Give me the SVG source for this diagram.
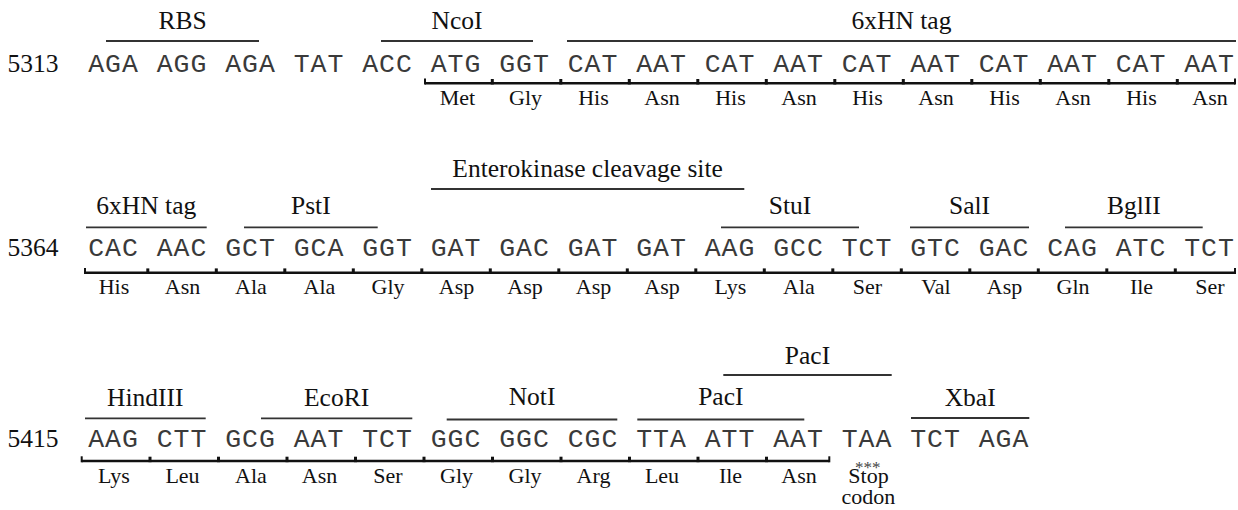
<svg xmlns="http://www.w3.org/2000/svg" width="1238" height="510" viewBox="0 0 1238 510">
<style>
.num{font-family:"Liberation Serif",serif;font-size:25.5px;fill:#111}
.cod{font-family:"Liberation Mono","Courier New",monospace;font-size:26.5px;letter-spacing:1px;fill:#3a3a3a;text-anchor:middle}
.lab{font-family:"Liberation Serif",serif;font-size:25.5px;fill:#111;text-anchor:middle}
.aa{font-family:"Liberation Serif",serif;font-size:22px;fill:#111;text-anchor:middle}
.ast{font-size:17px;fill:#444}
.ov{stroke:#333;stroke-width:1.8;fill:none}
.br{stroke:#111;stroke-width:2.5;fill:none}
.tk{fill:#111}
</style>
<rect width="1238" height="510" fill="#fff"/>

<!-- Row 1 -->
<g id="row1">
<text class="num" x="7.5" y="72">5313</text>
<g id="row1-codons">
<text class="cod" x="113.5" y="72">AGA</text>
<text class="cod" x="182" y="72">AGG</text>
<text class="cod" x="250.5" y="72">AGA</text>
<text class="cod" x="319" y="72">TAT</text>
<text class="cod" x="387.5" y="72">ACC</text>
<text class="cod" x="456" y="72">ATG</text>
<text class="cod" x="524.5" y="72">GGT</text>
<text class="cod" x="593" y="72">CAT</text>
<text class="cod" x="661.5" y="72">AAT</text>
<text class="cod" x="730" y="72">CAT</text>
<text class="cod" x="798.5" y="72">AAT</text>
<text class="cod" x="867" y="72">CAT</text>
<text class="cod" x="935.5" y="72">AAT</text>
<text class="cod" x="1004" y="72">CAT</text>
<text class="cod" x="1072.5" y="72">AAT</text>
<text class="cod" x="1141" y="72">CAT</text>
<text class="cod" x="1209.5" y="72">AAT</text>
</g>
<g id="row1-features">
<g id="rbs"><line class="ov" x1="106" y1="41" x2="259" y2="41"/><text class="lab" x="182.5" y="29">RBS</text></g>
<g id="ncoi"><line class="ov" x1="381" y1="41" x2="533" y2="41"/><text class="lab" x="457" y="28.5">NcoI</text></g>
<g id="hn1"><line class="ov" x1="567" y1="41" x2="1236" y2="41"/><text class="lab" x="901.5" y="28.5">6xHN tag</text></g>
</g>
<g id="row1-bracket">
<line class="br" x1="425" y1="83.3" x2="1235" y2="83.3"/>
<rect class="tk" x="424" y="78.5" width="2" height="6"/>
<rect class="tk" x="1234" y="78.5" width="2" height="6"/>
<rect class="tk" x="490.8" y="79" width="3" height="5.5"/>
<rect class="tk" x="559.3" y="79" width="3" height="5.5"/>
<rect class="tk" x="627.8" y="79" width="3" height="5.5"/>
<rect class="tk" x="696.3" y="79" width="3" height="5.5"/>
<rect class="tk" x="764.8" y="79" width="3" height="5.5"/>
<rect class="tk" x="833.3" y="79" width="3" height="5.5"/>
<rect class="tk" x="901.8" y="79" width="3" height="5.5"/>
<rect class="tk" x="970.3" y="79" width="3" height="5.5"/>
<rect class="tk" x="1038.8" y="79" width="3" height="5.5"/>
<rect class="tk" x="1107.3" y="79" width="3" height="5.5"/>
<rect class="tk" x="1175.8" y="79" width="3" height="5.5"/>
</g>
<g id="row1-aa">
<text class="aa" x="457.5" y="104.5">Met</text>
<text class="aa" x="525.5" y="104.5">Gly</text>
<text class="aa" x="593.5" y="104.5">His</text>
<text class="aa" x="662" y="104.5">Asn</text>
<text class="aa" x="730.5" y="104.5">His</text>
<text class="aa" x="799" y="104.5">Asn</text>
<text class="aa" x="867.5" y="104.5">His</text>
<text class="aa" x="936" y="104.5">Asn</text>
<text class="aa" x="1004.5" y="104.5">His</text>
<text class="aa" x="1073" y="104.5">Asn</text>
<text class="aa" x="1141.5" y="104.5">His</text>
<text class="aa" x="1210" y="104.5">Asn</text>
</g>
</g>

<!-- Row 2 -->
<g id="row2">
<text class="num" x="7.5" y="256">5364</text>
<g id="row2-codons">
<text class="cod" x="113.5" y="256">CAC</text>
<text class="cod" x="182" y="256">AAC</text>
<text class="cod" x="250.5" y="256">GCT</text>
<text class="cod" x="319" y="256">GCA</text>
<text class="cod" x="387.5" y="256">GGT</text>
<text class="cod" x="456" y="256">GAT</text>
<text class="cod" x="524.5" y="256">GAC</text>
<text class="cod" x="593" y="256">GAT</text>
<text class="cod" x="661.5" y="256">GAT</text>
<text class="cod" x="730" y="256">AAG</text>
<text class="cod" x="798.5" y="256">GCC</text>
<text class="cod" x="867" y="256">TCT</text>
<text class="cod" x="935.5" y="256">GTC</text>
<text class="cod" x="1004" y="256">GAC</text>
<text class="cod" x="1072.5" y="256">CAG</text>
<text class="cod" x="1141" y="256">ATC</text>
<text class="cod" x="1209.5" y="256">TCT</text>
</g>
<g id="row2-features">
<g id="hn2"><line class="ov" x1="86" y1="227.3" x2="206.7" y2="227.3"/><text class="lab" x="146.3" y="213.7">6xHN tag</text></g>
<g id="psti"><line class="ov" x1="244" y1="227.3" x2="377.7" y2="227.3"/><text class="lab" x="310.8" y="213.7">PstI</text></g>
<g id="ek"><line class="ov" x1="431" y1="189" x2="744.3" y2="189"/><text class="lab" x="587.6" y="177.3">Enterokinase cleavage site</text></g>
<g id="stui"><line class="ov" x1="721" y1="227.3" x2="859" y2="227.3"/><text class="lab" x="790" y="213.7">StuI</text></g>
<g id="sali"><line class="ov" x1="910" y1="227.3" x2="1029" y2="227.3"/><text class="lab" x="969.5" y="213.7">SalI</text></g>
<g id="bglii"><line class="ov" x1="1065" y1="227.3" x2="1202.7" y2="227.3"/><text class="lab" x="1133.8" y="213.7">BglII</text></g>
</g>
<g id="row2-bracket">
<line class="br" x1="85" y1="272.7" x2="1235" y2="272.7"/>
<rect class="tk" x="84" y="268" width="2" height="6"/>
<rect class="tk" x="1234" y="268" width="2" height="6"/>
<rect class="tk" x="146.3" y="268.4" width="3" height="5.5"/>
<rect class="tk" x="214.8" y="268.4" width="3" height="5.5"/>
<rect class="tk" x="283.3" y="268.4" width="3" height="5.5"/>
<rect class="tk" x="351.8" y="268.4" width="3" height="5.5"/>
<rect class="tk" x="420.3" y="268.4" width="3" height="5.5"/>
<rect class="tk" x="488.8" y="268.4" width="3" height="5.5"/>
<rect class="tk" x="557.3" y="268.4" width="3" height="5.5"/>
<rect class="tk" x="625.8" y="268.4" width="3" height="5.5"/>
<rect class="tk" x="694.3" y="268.4" width="3" height="5.5"/>
<rect class="tk" x="762.8" y="268.4" width="3" height="5.5"/>
<rect class="tk" x="831.3" y="268.4" width="3" height="5.5"/>
<rect class="tk" x="899.8" y="268.4" width="3" height="5.5"/>
<rect class="tk" x="968.3" y="268.4" width="3" height="5.5"/>
<rect class="tk" x="1036.8" y="268.4" width="3" height="5.5"/>
<rect class="tk" x="1105.3" y="268.4" width="3" height="5.5"/>
<rect class="tk" x="1173.8" y="268.4" width="3" height="5.5"/>
</g>
<g id="row2-aa">
<text class="aa" x="114" y="294.2">His</text>
<text class="aa" x="182.5" y="294.2">Asn</text>
<text class="aa" x="251" y="294.2">Ala</text>
<text class="aa" x="319.5" y="294.2">Ala</text>
<text class="aa" x="388" y="294.2">Gly</text>
<text class="aa" x="456.5" y="294.2">Asp</text>
<text class="aa" x="525" y="294.2">Asp</text>
<text class="aa" x="593.5" y="294.2">Asp</text>
<text class="aa" x="662" y="294.2">Asp</text>
<text class="aa" x="730.5" y="294.2">Lys</text>
<text class="aa" x="799" y="294.2">Ala</text>
<text class="aa" x="867.5" y="294.2">Ser</text>
<text class="aa" x="936" y="294.2">Val</text>
<text class="aa" x="1004.5" y="294.2">Asp</text>
<text class="aa" x="1073" y="294.2">Gln</text>
<text class="aa" x="1141.5" y="294.2">Ile</text>
<text class="aa" x="1210" y="294.2">Ser</text>
</g>
</g>

<!-- Row 3 -->
<g id="row3">
<text class="num" x="7.5" y="447">5415</text>
<g id="row3-codons">
<text class="cod" x="113.5" y="447">AAG</text>
<text class="cod" x="182" y="447">CTT</text>
<text class="cod" x="250.5" y="447">GCG</text>
<text class="cod" x="319" y="447">AAT</text>
<text class="cod" x="387.5" y="447">TCT</text>
<text class="cod" x="456" y="447">GGC</text>
<text class="cod" x="524.5" y="447">GGC</text>
<text class="cod" x="593" y="447">CGC</text>
<text class="cod" x="661.5" y="447">TTA</text>
<text class="cod" x="730" y="447">ATT</text>
<text class="cod" x="798.5" y="447">AAT</text>
<text class="cod" x="867" y="447">TAA</text>
<text class="cod" x="935.5" y="447">TCT</text>
<text class="cod" x="1004" y="447">AGA</text>
</g>
<g id="row3-features">
<g id="hindiii"><line class="ov" x1="85" y1="418.3" x2="205.7" y2="418.3"/><text class="lab" x="145.3" y="405.8">HindIII</text></g>
<g id="ecori"><line class="ov" x1="261" y1="418.3" x2="412.3" y2="418.3"/><text class="lab" x="336.6" y="405.8">EcoRI</text></g>
<g id="noti"><line class="ov" x1="446.7" y1="419.5" x2="617.3" y2="419.5"/><text class="lab" x="532" y="405.3">NotI</text></g>
<g id="paci1"><line class="ov" x1="637.3" y1="419.5" x2="804.3" y2="419.5"/><text class="lab" x="720.8" y="405.3">PacI</text></g>
<g id="paci2"><line class="ov" x1="723.3" y1="375" x2="891.7" y2="375"/><text class="lab" x="807.5" y="363.7">PacI</text></g>
<g id="xbai"><line class="ov" x1="911" y1="418" x2="1029.3" y2="418"/><text class="lab" x="970.2" y="405.8">XbaI</text></g>
</g>
<g id="row3-bracket">
<line class="br" x1="81.7" y1="461" x2="829.3" y2="461"/>
<rect class="tk" x="80.7" y="456.3" width="2" height="6"/>
<rect class="tk" x="828.3" y="456.3" width="2" height="6"/>
<rect class="tk" x="148.5" y="456.7" width="3" height="5.5"/>
<rect class="tk" x="217" y="456.7" width="3" height="5.5"/>
<rect class="tk" x="285.5" y="456.7" width="3" height="5.5"/>
<rect class="tk" x="354" y="456.7" width="3" height="5.5"/>
<rect class="tk" x="422.5" y="456.7" width="3" height="5.5"/>
<rect class="tk" x="491" y="456.7" width="3" height="5.5"/>
<rect class="tk" x="559.5" y="456.7" width="3" height="5.5"/>
<rect class="tk" x="628" y="456.7" width="3" height="5.5"/>
<rect class="tk" x="696.5" y="456.7" width="3" height="5.5"/>
<rect class="tk" x="765" y="456.7" width="3" height="5.5"/>
</g>
<g id="row3-aa">
<text class="aa" x="114" y="483">Lys</text>
<text class="aa" x="182.5" y="483">Leu</text>
<text class="aa" x="251" y="483">Ala</text>
<text class="aa" x="319.5" y="483">Asn</text>
<text class="aa" x="388" y="483">Ser</text>
<text class="aa" x="456.5" y="483">Gly</text>
<text class="aa" x="525" y="483">Gly</text>
<text class="aa" x="593.5" y="483">Arg</text>
<text class="aa" x="662" y="483">Leu</text>
<text class="aa" x="730.5" y="483">Ile</text>
<text class="aa" x="799" y="483">Asn</text>
</g>
<g id="stop">
<text class="aa"><tspan class="ast" x="867.7" y="472.5">***</tspan><tspan x="868.5" y="483">Stop</tspan><tspan x="868.5" y="504">codon</tspan></text>
</g>
</g>
</svg>
